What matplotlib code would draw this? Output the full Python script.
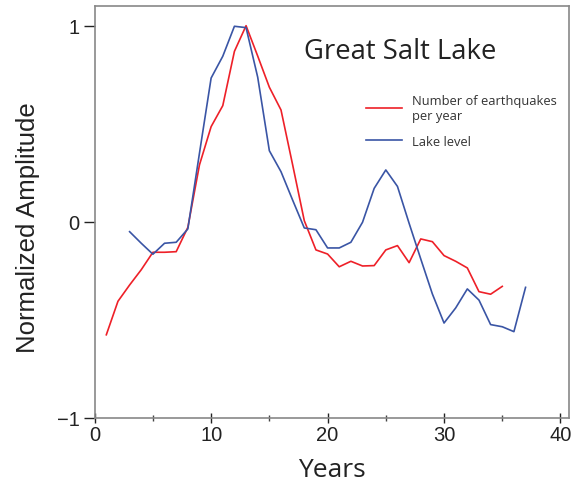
import matplotlib
matplotlib.use("Agg")
import matplotlib.pyplot as plt
from matplotlib.ticker import MultipleLocator

plt.rcParams['font.family'] = ['Open Sans', 'DejaVu Sans']

# Data
quake_years = list(range(1, 36))
quake_values = [-0.577, -0.406, -0.323, -0.245, -0.156, -0.156, -0.153, -0.029, 0.29, 0.485,
                0.592, 0.869, 1.0, 0.845, 0.686, 0.57, 0.29, 0.005, -0.144, -0.165,
                -0.23, -0.202, -0.226, -0.224, -0.144, -0.122, -0.209, -0.088, -0.102, -0.173,
                -0.202, -0.236, -0.357, -0.37, -0.33]
lake_years = list(range(3, 38))
lake_values = [-0.051, -0.11, -0.166, -0.11, -0.105, -0.037, 0.35, 0.733, 0.844, 0.997,
               0.99, 0.737, 0.362, 0.255, 0.11, -0.032, -0.041, -0.134, -0.134, -0.105,
               -0.003, 0.17, 0.264, 0.18, -0.008, -0.19, -0.369, -0.517, -0.44, -0.343,
               -0.4, -0.525, -0.536, -0.561, -0.335]

x_ticks = [0, 10, 20, 30, 40]
y_ticks = [-1, 0, 1]
y_tick_labels = ['\u22121', '0', '1']

fig = plt.figure(figsize=(5.71, 4.85), dpi=100)
ax = fig.add_axes([0.1658, 0.1367, 0.9969 - 0.1658, 0.985 - 0.1367])

ax.plot(quake_years, quake_values, color='#ee2028', lw=1.2, label='Number of earthquakes\nper year')
ax.plot(lake_years, lake_values, color='#3a55a5', lw=1.2, label='Lake level')

ax.set_xlim(0, 40.75)
ax.set_ylim(-1, 1.099)
ax.set_xticks(x_ticks)
ax.xaxis.set_minor_locator(MultipleLocator(5))
ax.set_yticks(y_ticks)
ax.set_yticklabels(y_tick_labels)
ax.tick_params(axis='x', which='major', direction='inout', length=7, width=1, labelsize=14.5, colors='#222222', pad=2)
ax.tick_params(axis='x', which='minor', direction='inout', length=5, width=1, color='#444444')
ax.tick_params(axis='y', which='major', direction='out', length=8, width=1, labelsize=14.5, colors='#222222', pad=3)
for lab in ax.get_xticklabels() + ax.get_yticklabels():
    lab.set_family(['Liberation Sans', 'DejaVu Sans'])

for s in ax.spines.values():
    s.set_color('#888888')
    s.set_linewidth(1.2)

ax.set_xlabel('Years', fontsize=19, color='#222222', labelpad=9)
ax.set_ylabel('Normalized Amplitude', fontsize=18.5, color='#222222',
              family=['Liberation Sans', 'DejaVu Sans'], va='center', ha='center')
ax.yaxis.set_label_coords(-0.1406, 0.465)

ax.text(18.0, 0.87, 'Great Salt Lake', fontsize=19.8, color='#222222', ha='left', va='center')

leg = ax.legend(frameon=False, loc='upper left', bbox_to_anchor=(0.548, 0.815),
                fontsize=9.3, handlelength=2.75, handletextpad=0.75, labelspacing=1.0)
for t in leg.get_texts():
    t.set_color('#333333')

fig.savefig('out.png', dpi=100)
